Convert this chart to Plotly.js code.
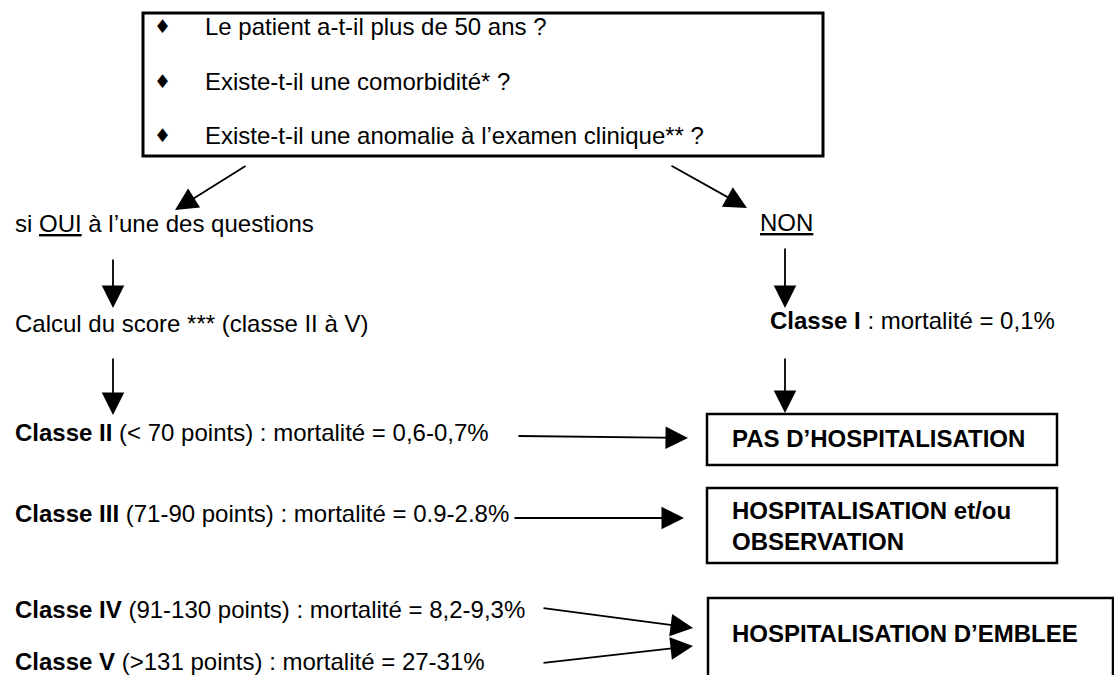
<!DOCTYPE html>
<html>
<head>
<meta charset="utf-8">
<script src="https://cdn.plot.ly/plotly-3.0.1.min.js"></script>
<style>html,body{margin:0;padding:0;background:#fff;}#chart{width:1114px;height:675px;}</style>
</head>
<body>
<div id="chart"></div>
<script>
// ---- content (text data) ----
const questions = [
  "Le patient a-t-il plus de 50 ans ?",
  "Existe-t-il une comorbidité* ?",
  "Existe-t-il une anomalie à l’examen clinique** ?"
];
const bulletSymbol = "♦";
const branchLabels = ["si <u>OUI</u> à l’une des questions", "<u>NON</u>"];
const scoreLabel = "Calcul du score *** (classe II à V)";
const classNames = ["Classe I", "Classe II", "Classe III", "Classe IV", "Classe V"];
const classPoints = ["", "(&lt; 70 points)", "(71-90 points)", "(91-130 points)", "(&gt;131 points)"];
const classMortality = ["0,1%", "0,6-0,7%", "0.9-2.8%", "8,2-9,3%", "27-31%"];
const outcomes = ["PAS D’HOSPITALISATION", "HOSPITALISATION et/ou<br>OBSERVATION", "HOSPITALISATION D’EMBLEE"];

// ---- layout positions (pixel space, y downwards) ----
const FONT = "Liberation Sans, Arial, sans-serif";
const FS = 24;
const pos = {
  topBox: [143, 13, 823, 156],
  bulletX: 162, questionX: 203, questionY: [26, 81, 135],
  leftX: 13,
  branchY: 223, nonX: 758, nonY: 222,
  scoreY: 323,
  class1: [768, 320],
  classY: [432, 513, 609, 661],
  outcomeBoxes: [[707, 414, 1057, 465], [707, 488, 1057, 563], [708, 598, 1113, 700]],
  outcomeX: 730, outcomeY: [438, 526, 633],
  arrows: [
    [247, 165, 175, 210], [670, 165, 747, 208],
    [113, 258, 113, 308], [113, 357, 113, 415],
    [785, 247, 785, 308], [785, 357, 785, 413],
    [517, 436, 688, 438], [513, 518, 684, 518],
    [542, 608, 693, 628], [542, 663, 693, 646]
  ]
};

const shapes = [];
const annotations = [];

function rect(b, w) {
  shapes.push({type: 'rect', xref: 'x', yref: 'y', x0: b[0], y0: b[1], x1: b[2], y1: b[3],
    line: {color: '#000', width: w}, fillcolor: 'rgba(0,0,0,0)'});
}
function label(x, y, text, extra) {
  annotations.push(Object.assign({x: x, y: y, xref: 'x', yref: 'y', text: text, showarrow: false,
    xanchor: 'left', yanchor: 'middle', align: 'left',
    font: {family: FONT, size: FS, color: '#000'}}, extra || {}));
}

rect(pos.topBox, 3);
questions.forEach((q, i) => {
  label(pos.bulletX, pos.questionY[i], bulletSymbol, {xanchor: 'center', font: {family: "DejaVu Sans", size: 19, color: '#000'}});
  label(pos.questionX, pos.questionY[i], q);
});
label(pos.leftX, pos.branchY, branchLabels[0]);
label(pos.nonX, pos.nonY, branchLabels[1]);
label(pos.leftX, pos.scoreY, scoreLabel);

classNames.forEach((c, i) => {
  const txt = '<b>' + c + '</b>' + (classPoints[i] ? ' ' + classPoints[i] : '') + ' : mortalité = ' + classMortality[i];
  if (i === 0) label(pos.class1[0], pos.class1[1], txt);
  else label(pos.leftX, pos.classY[i - 1], txt);
});

outcomes.forEach((o, i) => {
  rect(pos.outcomeBoxes[i], 2.5);
  label(pos.outcomeX, pos.outcomeY[i], '<b>' + o + '</b>');
});

pos.arrows.forEach(a => {
  annotations.push({x: a[2], y: a[3], ax: a[0], ay: a[1], xref: 'x', yref: 'y', axref: 'x', ayref: 'y',
    text: '', showarrow: true, arrowhead: 2, arrowsize: 2.5, arrowwidth: 1.8, arrowcolor: '#000', standoff: 0});
});

const layout = {
  width: 1114, height: 675,
  margin: {l: 0, r: 0, t: 0, b: 0},
  paper_bgcolor: '#fff', plot_bgcolor: '#fff',
  showlegend: false,
  xaxis: {range: [0, 1114], visible: false, fixedrange: true},
  yaxis: {range: [675, 0], visible: false, fixedrange: true},
  shapes: shapes,
  annotations: annotations
};

Plotly.newPlot('chart', [{x: [], y: [], type: 'scatter', mode: 'markers', hoverinfo: 'skip'}], layout, {displayModeBar: false, staticPlot: true});
</script>
</body>
</html>
